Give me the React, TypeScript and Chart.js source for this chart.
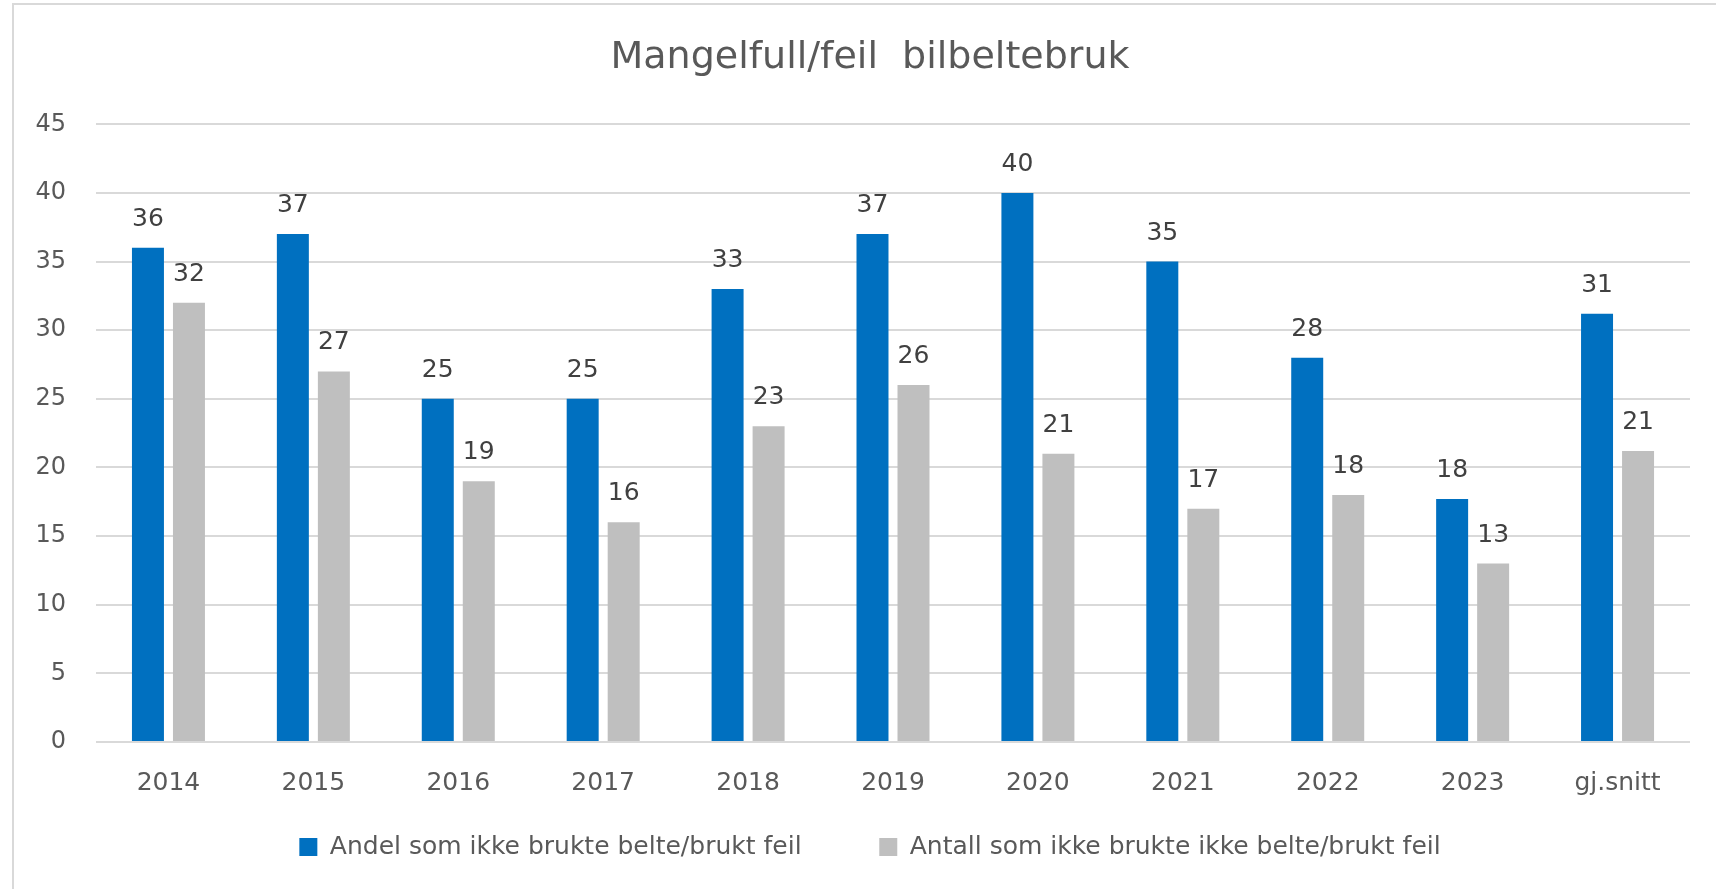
import React, { useEffect, useRef } from "react";
import { Chart, registerables } from "chart.js";

Chart.register(...registerables);

// ---- Data ----
const categories = ["2014", "2015", "2016", "2017", "2018", "2019", "2020", "2021", "2022", "2023", "gj.snitt"];
const andelValues = [36, 37, 25, 25, 33, 37, 40, 35, 28, 17.7, 31.2];
const antallValues = [32, 27, 19, 16, 23, 26, 21, 17, 18, 13, 21.2];
const yTicks = [0, 5, 10, 15, 20, 25, 30, 35, 40, 45];
const chartTitle = "Mangelfull/feil  bilbeltebruk";
const andelLabel = "Andel som ikke brukte belte/brukt feil";
const antallLabel = "Antall som ikke brukte ikke belte/brukt feil";

const FONT = '"DejaVu Sans", "Open Sans", sans-serif';
const TEXT_COLOR = "#595959";
const BLUE = "#0070C0";
const GREY = "#BFBFBF";

const valueLabels = {
  id: "valueLabels",
  afterDatasetsDraw(chart: any) {
    const ctx = chart.ctx;
    ctx.save();
    ctx.font = `25px ${FONT}`;
    ctx.fillStyle = "#404040";
    ctx.textAlign = "center";
    ctx.textBaseline = "alphabetic";
    chart.data.datasets.forEach((ds: any, i: number) => {
      const meta = chart.getDatasetMeta(i);
      meta.data.forEach((bar: any, j: number) => {
        const v = ds.data[j];
        ctx.fillText(String(Math.round(v)), bar.x, bar.y - 22);
      });
    });
    ctx.restore();
  },
};

export default function App() {
  const canvasRef = useRef<HTMLCanvasElement | null>(null);

  useEffect(() => {
    if (!canvasRef.current) return;
    Chart.defaults.font.family = FONT;
    const chart = new Chart(canvasRef.current, {
      type: "bar",
      data: {
        labels: categories,
        datasets: [
          {
            label: andelLabel,
            data: andelValues,
            backgroundColor: BLUE,
            borderWidth: 0,
            categoryPercentage: 0.566,
            barPercentage: 0.78,
          },
          {
            label: antallLabel,
            data: antallValues,
            backgroundColor: GREY,
            borderWidth: 0,
            categoryPercentage: 0.566,
            barPercentage: 0.78,
          },
        ],
      },
      options: {
        responsive: false,
        animation: false,
        layout: { padding: { top: 10, left: 24, right: 0, bottom: 19.5 } },
        plugins: {
          title: {
            display: true,
            text: chartTitle,
            color: TEXT_COLOR,
            font: { size: 38, weight: "normal", family: FONT },
            padding: { top: 25, bottom: 43.7 },
          },
          legend: {
            position: "bottom",
            labels: {
              color: TEXT_COLOR,
              font: { size: 25, family: FONT },
              boxWidth: 18,
              boxHeight: 18,
              padding: 30,
              generateLabels: (chart: any) => {
                const items = Chart.defaults.plugins.legend.labels.generateLabels(chart);
                return items.map((it: any, idx: number) =>
                  idx === 0 ? { ...it, text: it.text + "      " } : it
                );
              },
            },
          },
          tooltip: { enabled: false },
        },
        scales: {
          x: {
            grid: { display: false, drawTicks: false },
            border: { display: false },
            ticks: { color: TEXT_COLOR, font: { size: 25, family: FONT }, padding: 26 },
            afterFit: (scale: any) => {
              scale.height = 62.5;
            },
          },
          y: {
            min: yTicks[0],
            max: yTicks[yTicks.length - 1],
            grid: { color: "#D9D9D9", lineWidth: 2, drawTicks: false },
            border: { display: false },
            ticks: {
              stepSize: yTicks[1] - yTicks[0],
              color: TEXT_COLOR,
              font: { size: 24, family: FONT },
              padding: 30,
            },
            afterFit: (scale: any) => {
              scale.width = 72;
            },
          },
          yRightSpace: {
            type: "linear",
            position: "right",
            display: true,
            grid: { display: false, drawTicks: false },
            border: { display: false },
            ticks: { display: false },
            afterFit: (scale: any) => {
              scale.width = 26;
            },
          },
        },
      },
      plugins: [valueLabels],
    } as any);
    return () => chart.destroy();
  }, []);

  return (
    <div
      style={{
        position: "fixed",
        left: 0,
        top: 0,
        width: 1716,
        height: 889,
        overflow: "hidden",
        background: "#ffffff",
      }}
    >
      <div
        style={{
          position: "absolute",
          left: 12,
          top: 3,
          width: 1800,
          height: 1000,
          border: "2px solid #D9D9D9",
          boxSizing: "border-box",
        }}
      />
      <canvas
        ref={canvasRef}
        width={1716}
        height={889}
        style={{ position: "absolute", left: 0, top: 0, display: "block" }}
      />
    </div>
  );
}
